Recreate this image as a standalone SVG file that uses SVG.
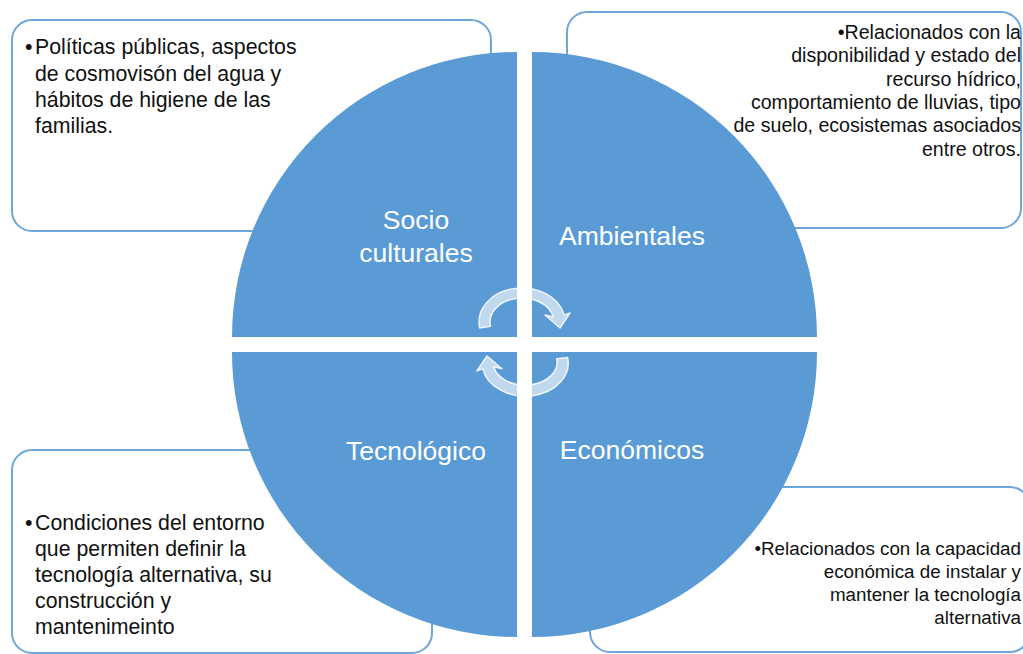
<svg xmlns="http://www.w3.org/2000/svg" width="1023" height="654" viewBox="0 0 1023 654">
<style>
.box{fill:#ffffff;stroke:#6ea6da;stroke-width:2}
.quad{fill:#5b9bd5}
.lbl{font-family:"Liberation Sans",Arial,sans-serif;font-size:26.5px;fill:#ffffff;text-anchor:middle}
.big{font-family:"Liberation Sans",Arial,sans-serif;font-size:21.3px;fill:#111111}
.small{font-family:"Liberation Sans",Arial,sans-serif;font-size:18.8px;fill:#111111;text-anchor:end}
.arrow{fill:#ffffff;fill-opacity:0.62;stroke:#ffffff;stroke-opacity:0.85;stroke-width:1.5;stroke-linejoin:round}
</style>
<rect width="1023" height="654" fill="#ffffff"/>

<g id="box-socioculturales">
<rect class="box" x="12" y="20" width="479" height="211" rx="20"/>
<text class="big"><tspan x="25" y="54">•</tspan><tspan x="35" y="54">Políticas públicas, aspectos</tspan><tspan x="35" y="81">de cosmovisón del agua y</tspan><tspan x="35" y="107">hábitos de higiene de las</tspan><tspan x="35" y="133">familias.</tspan></text>
</g>

<g id="box-ambientales">
<rect class="box" x="567" y="12" width="454" height="216" rx="20"/>
<text class="small" style="font-size:19.6px"><tspan x="1021" y="39">•Relacionados con la</tspan><tspan x="1021" y="62">disponibilidad y estado del</tspan><tspan x="1021" y="86">recurso hídrico,</tspan><tspan x="1021" y="109">comportamiento de lluvias, tipo</tspan><tspan x="1021" y="132">de suelo, ecosistemas asociados</tspan><tspan x="1021" y="156">entre otros.</tspan></text>
</g>

<g id="box-tecnologico">
<rect class="box" x="12" y="450" width="420" height="203" rx="20"/>
<text class="big"><tspan x="25" y="530">•</tspan><tspan x="35" y="530">Condiciones del entorno</tspan><tspan x="35" y="556">que permiten definir la</tspan><tspan x="35" y="582">tecnología alternativa, su</tspan><tspan x="35" y="608">construcción y</tspan><tspan x="35" y="634">mantenimeinto</tspan></text>
</g>

<g id="box-economicos">
<rect class="box" x="590" y="487" width="440" height="165" rx="20"/>
<text class="small"><tspan x="1021" y="555">•Relacionados con la capacidad</tspan><tspan x="1021" y="578">económica de instalar y</tspan><tspan x="1021" y="601">mantener la tecnología</tspan><tspan x="1021" y="624">alternativa</tspan></text>
</g>

<g id="node-socioculturales">
<path class="quad" d="M517,337 L232,337 A285,285 0 0 1 517,52 Z"/>
<text class="lbl"><tspan x="416" y="229">Socio</tspan><tspan x="416" y="262">culturales</tspan></text>
</g>

<g id="node-ambientales">
<path class="quad" d="M532,337 L532,52 A285,285 0 0 1 817,337 Z"/>
<text class="lbl" x="632" y="245">Ambientales</text>
</g>

<g id="node-tecnologico">
<path class="quad" d="M517,352 L517,637 A285,285 0 0 1 232,352 Z"/>
<text class="lbl" x="416" y="460">Tecnológico</text>
</g>

<g id="node-economicos">
<path class="quad" d="M532,352 L817,352 A285,285 0 0 1 532,637 Z"/>
<text class="lbl" x="632" y="459">Económicos</text>
</g>

<g id="connectors">
<path class="arrow" d="M479.7,327.9 A43,34 0 0 1 564.1,314.9 L570,313 L560,328 L545,315 L553.3,317 A32,24 0 0 0 490.5,326.2 Z"/>
<path class="arrow" d="M567.6,357.4 A43,33 0 0 1 482.9,368.9 L476.9,370.9 L487,356 L502,368.8 L493.7,366.8 A32,23 0 0 0 556.7,358.8 Z"/>
</g>
</svg>
